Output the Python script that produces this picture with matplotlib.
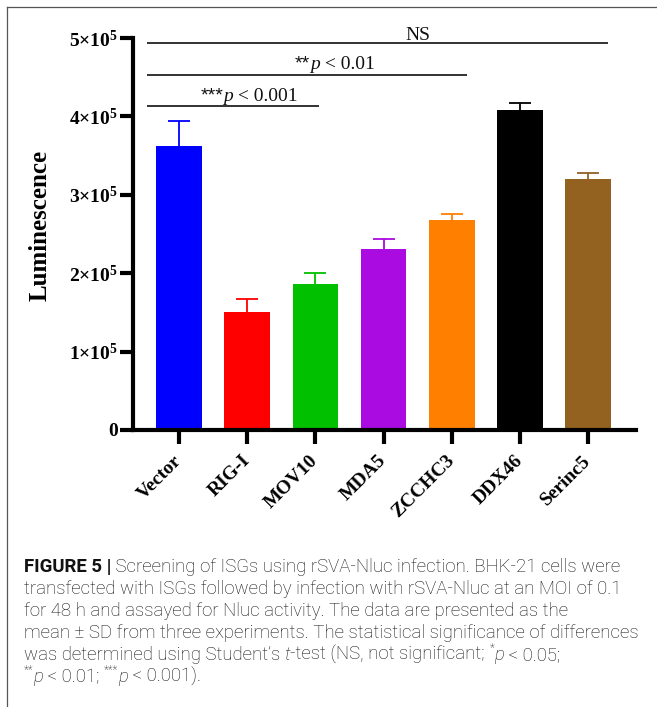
import numpy as np
import matplotlib
matplotlib.use('Agg')
import matplotlib.pyplot as plt
from matplotlib.lines import Line2D
from matplotlib.transforms import ScaledTranslation
from matplotlib.font_manager import FontProperties

# ---------------- data ----------------
categories = ['Vector', 'RIG-I', 'MOV10', 'MDA5', 'ZCCHC3', 'DDX46', 'Serinc5']
means = [3.62e5, 1.50e5, 1.86e5, 2.31e5, 2.68e5, 4.08e5, 3.20e5]
sds = [0.32e5, 0.17e5, 0.14e5, 0.13e5, 0.08e5, 0.085e5, 0.075e5]
bar_colors = ['#0000FF', '#FF0000', '#00C000', '#A90BE0', '#FF8000', '#000000', '#936120']

yticks = [0, 1e5, 2e5, 3e5, 4e5, 5e5]
ytick_labels = ['0', r'1×10$^{\mathbf{5}}$', r'2×10$^{\mathbf{5}}$', r'3×10$^{\mathbf{5}}$',
                r'4×10$^{\mathbf{5}}$', r'5×10$^{\mathbf{5}}$']

# significance annotations: segments (text, kind) with kind star / it / rm
sig_segments = [
    [('***', 'star'), ('p', 'it'), (' < 0.001', 'rm')],
    [('**', 'star'), ('p', 'it'), (' < 0.01', 'rm')],
    [('NS', 'rm')],
]
sig_heights = [4.13e5, 4.53e5, 4.94e5]
sig_start = [-0.47, -0.47, -0.47]
sig_end = [2.06, 4.22, 6.29]

# caption: segments of (text, kind) with kind b=bold, n=normal, i=italic, s=superscript
caption_segments = [
    [('FIGURE 5 |', 'b'), (' Screening of ISGs using rSVA-Nluc infection. BHK-21 cells were', 'n')],
    [('transfected with ISGs followed by infection with rSVA-Nluc at an MOI of 0.1', 'n')],
    [('for 48 h and assayed for Nluc activity. The data are presented as the', 'n')],
    [('mean ± SD from three experiments. The statistical significance of differences', 'n')],
    [('was determined using Student’s ', 'n'), ('t', 'i'), ('-test (NS, not significant; ', 'n'),
     ('*', 's'), ('p', 'i'), (' < 0.05;', 'n')],
    [('**', 's'), ('p', 'i'), (' < 0.01; ', 'n'), ('***', 's'), ('p', 'i'), (' < 0.001).', 'n')],
]

# ---------------- style ----------------
plt.rcParams['font.family'] = ['Liberation Serif', 'DejaVu Serif']
plt.rcParams['mathtext.fontset'] = 'custom'
plt.rcParams['mathtext.rm'] = 'Liberation Serif'
plt.rcParams['mathtext.it'] = 'Liberation Serif:italic'
plt.rcParams['mathtext.bf'] = 'Liberation Serif:bold'

W, H = 657, 707
fig = plt.figure(figsize=(W / 100, H / 100), dpi=100)
fig.patch.set_facecolor('white')

ax = fig.add_axes([133 / W, 1 - 430 / H, 503 / W, 392 / H])
x = np.arange(len(categories))
ax.bar(x, means, width=0.67, color=bar_colors, zorder=2)
for i in range(len(categories)):
    eb = ax.errorbar(x[i], means[i], yerr=[[0], [sds[i]]], fmt='none', ecolor=bar_colors[i],
                     elinewidth=1.3, capsize=8, capthick=1.3, zorder=1)
    for cl in eb.lines[1]:
        if np.allclose(cl.get_ydata(), means[i]):
            cl.set_visible(False)

ax.set_xlim(-0.674, 6.70)
ax.set_ylim(0, 5e5)
for s in ['top', 'right']:
    ax.spines[s].set_visible(False)
for s in ['left', 'bottom']:
    ax.spines[s].set_linewidth(3)

ax.set_yticks(yticks)
ax.set_yticklabels(ytick_labels, fontsize=14, fontweight='bold')
ax.tick_params(axis='y', length=9.5, width=3, pad=1.5)
ax.set_xticks(x)
ax.set_xticklabels(categories, rotation=45, ha='right', fontsize=14, fontweight='bold')
ax.tick_params(axis='x', length=10, width=3, pad=6)
shift = ScaledTranslation(6 / 100, 0, fig.dpi_scale_trans)
for lab in ax.get_xticklabels():
    lab.set_transform(lab.get_transform() + shift)

fig.text(40 / W, 1 - 225 / H, 'Luminescence', rotation=90, ha='center', va='center',
         fontsize=18, fontweight='bold')

# border lines
fig.add_artist(Line2D([7 / W, 7 / W], [0, 1 - 7 / H], transform=fig.transFigure,
                      color='#555555', lw=0.9))
fig.add_artist(Line2D([7 / W, 1], [1 - 7 / H, 1 - 7 / H], transform=fig.transFigure,
                      color='#555555', lw=0.9))

r = fig.canvas.get_renderer()


def seg_width(text, prop):
    w1, _, _ = r.get_text_width_height_descent('|' + text + '|', prop, ismath=False)
    w0, _, _ = r.get_text_width_height_descent('||', prop, ismath=False)
    return w1 - w0


# significance bars
for h, xs, xe in zip(sig_heights, sig_start, sig_end):
    ax.plot([xs, xe], [h, h], color='#222222', lw=1.3, clip_on=False, solid_capstyle='butt')


def sig_prop(kind):
    if kind == 'star':
        return FontProperties(family=['Liberation Sans'], size=14)
    if kind == 'it':
        return FontProperties(family=['Liberation Serif'], style='italic', size=14)
    return FontProperties(family=['Liberation Serif'], size=14)


text_x = [1.03, 2.28, 3.50]
offsets_px = [5.5, 6, 3]
for segs, h, tx, off in zip(sig_segments, sig_heights, text_x, offsets_px):
    cx, cy = ax.transData.transform((tx, h))
    total = sum(seg_width(t, sig_prop(k)) for t, k in segs)
    xp = cx - total / 2
    for t, k in segs:
        p = sig_prop(k)
        fig.text(xp / W, (cy + off) / H, t, fontproperties=p, color='#111111',
                 ha='left', va='baseline')
        xp += seg_width(t, p)

# caption
cap_family = ['Roboto', 'DejaVu Sans']
cap_color = '#111111'


def make_prop(kind, fs):
    if kind == 'b':
        return FontProperties(family=cap_family, weight='bold', size=fs)
    if kind == 'i':
        return FontProperties(family=cap_family, weight='light', style='italic', size=fs)
    if kind == 's':
        return FontProperties(family=cap_family, weight='light', size=fs * 0.62)
    return FontProperties(family=cap_family, weight='light', size=fs)


def line_width(segs, fs):
    return sum(seg_width(t, make_prop(k, fs)) for t, k in segs)


fs = 10 * 614 / line_width(caption_segments[3], 10)
x0 = 24
baselines = [572, 594, 616, 638, 660, 682]
for segs, b in zip(caption_segments, baselines):
    xp = x0
    for text, kind in segs:
        prop = make_prop(kind, fs)
        yb = b - (fs * 0.42 * 100 / 72 if kind == 's' else 0)
        fig.text(xp / W, 1 - yb / H, text, fontproperties=prop, color=cap_color,
                 va='baseline', ha='left')
        xp += seg_width(text, prop)

fig.savefig('out.png', dpi=100)
